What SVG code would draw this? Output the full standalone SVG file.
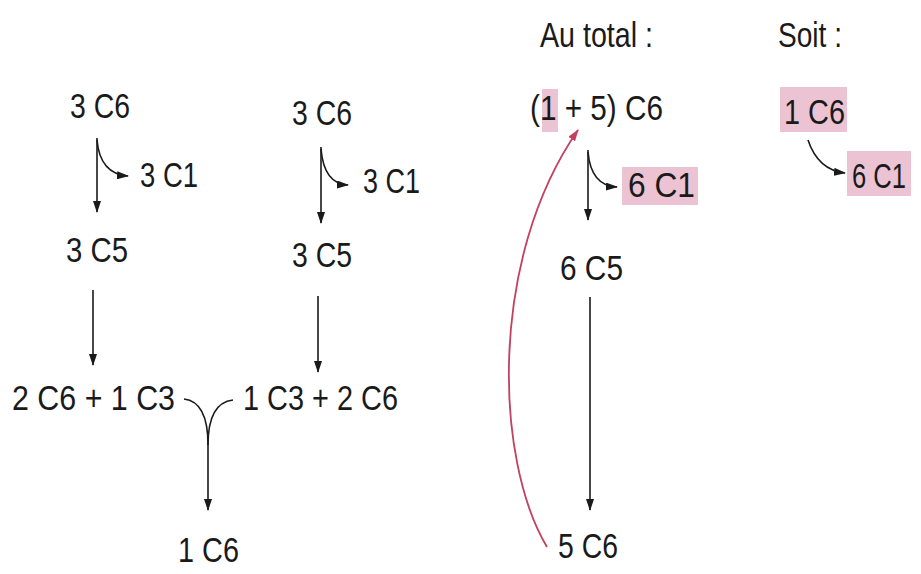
<svg xmlns="http://www.w3.org/2000/svg" width="921" height="574" viewBox="0 0 921 574">
<style>
text{font-family:"Liberation Sans",Arial,sans-serif;font-size:35px;fill:#1a1a1a}
.c{fill:none;stroke:#1a1a1a;stroke-width:1.6}
.r{fill:none;stroke:#c2415e;stroke-width:1.8}
.hl{fill:#ebc3d3}
</style>
<defs>
<marker id="ah" markerWidth="12" markerHeight="8" refX="11" refY="4" orient="auto" markerUnits="userSpaceOnUse">
<path d="M0,0 L12,4 L0,8 z" fill="#1a1a1a"/>
</marker>
<marker id="ahr" markerWidth="12" markerHeight="8" refX="11" refY="4" orient="auto" markerUnits="userSpaceOnUse">
<path d="M0,0 L12,4 L0,8 z" fill="#c2415e"/>
</marker>
</defs>
<rect width="921" height="574" fill="#ffffff"/>

<g id="highlights">
<rect class="hl" x="542" y="89" width="16" height="43"/>
<rect class="hl" x="622" y="167" width="76" height="38"/>
<rect class="hl" x="780" y="87" width="67" height="45"/>
<rect class="hl" x="847" y="151" width="64" height="45"/>
</g>

<g id="connectors">
<path class="c" d="M97,138 L97,212" marker-end="url(#ah)"/>
<path class="c" d="M97,140 Q100,174 128,176" marker-end="url(#ah)"/>
<path class="c" d="M93,290 L93,365" marker-end="url(#ah)"/>
<path class="c" d="M321,147 L321,223" marker-end="url(#ah)"/>
<path class="c" d="M321,149 Q324,184 348,185" marker-end="url(#ah)"/>
<path class="c" d="M318,296 L318,372" marker-end="url(#ah)"/>
<path class="c" d="M184,399 C202,401 208,420 208,445 L208,510" marker-end="url(#ah)"/>
<path class="c" d="M233,400 C215,402 208,420 208,445"/>
<path class="c" d="M588,150 L588,220" marker-end="url(#ah)"/>
<path class="c" d="M588,152 Q591,186 617,187" marker-end="url(#ah)"/>
<path class="c" d="M590,297 L590,510" marker-end="url(#ah)"/>
<path class="c" d="M808,140 Q818,170 845,173" marker-end="url(#ah)"/>
<path class="r" d="M547,547 C495,460 488,260 578,130" marker-end="url(#ahr)"/>
</g>

<g id="n1"><text x="70" y="118" textLength="60" lengthAdjust="spacingAndGlyphs">3 C6</text></g>
<g id="n2"><text x="140" y="187" textLength="58" lengthAdjust="spacingAndGlyphs">3 C1</text></g>
<g id="n3"><text x="66" y="262" textLength="62" lengthAdjust="spacingAndGlyphs">3 C5</text></g>
<g id="n4"><text x="12" y="410" textLength="163" lengthAdjust="spacingAndGlyphs">2 C6 + 1 C3</text></g>
<g id="n5"><text x="292" y="125" textLength="60" lengthAdjust="spacingAndGlyphs">3 C6</text></g>
<g id="n6"><text x="363" y="193" textLength="57" lengthAdjust="spacingAndGlyphs">3 C1</text></g>
<g id="n7"><text x="292" y="267" textLength="60" lengthAdjust="spacingAndGlyphs">3 C5</text></g>
<g id="n8"><text x="243" y="410" textLength="155" lengthAdjust="spacingAndGlyphs">1 C3 + 2 C6</text></g>
<g id="n9"><text x="178" y="562" textLength="61" lengthAdjust="spacingAndGlyphs">1 C6</text></g>
<g id="n10"><text x="540" y="47" textLength="113" lengthAdjust="spacingAndGlyphs">Au total :</text></g>
<g id="n11"><text x="530" y="120" textLength="133" lengthAdjust="spacingAndGlyphs">(1 + 5) C6</text></g>
<g id="n12"><text x="628" y="197" textLength="67" lengthAdjust="spacingAndGlyphs">6 C1</text></g>
<g id="n13"><text x="560" y="280" textLength="63" lengthAdjust="spacingAndGlyphs">6 C5</text></g>
<g id="n14"><text x="558" y="558" textLength="60" lengthAdjust="spacingAndGlyphs">5 C6</text></g>
<g id="n15"><text x="778" y="47" textLength="64" lengthAdjust="spacingAndGlyphs">Soit :</text></g>
<g id="n16"><text x="784" y="124" textLength="61" lengthAdjust="spacingAndGlyphs">1 C6</text></g>
<g id="n17"><text transform="translate(852,188) scale(0.73,1)" x="0" y="0">6 C1</text></g>
</svg>
